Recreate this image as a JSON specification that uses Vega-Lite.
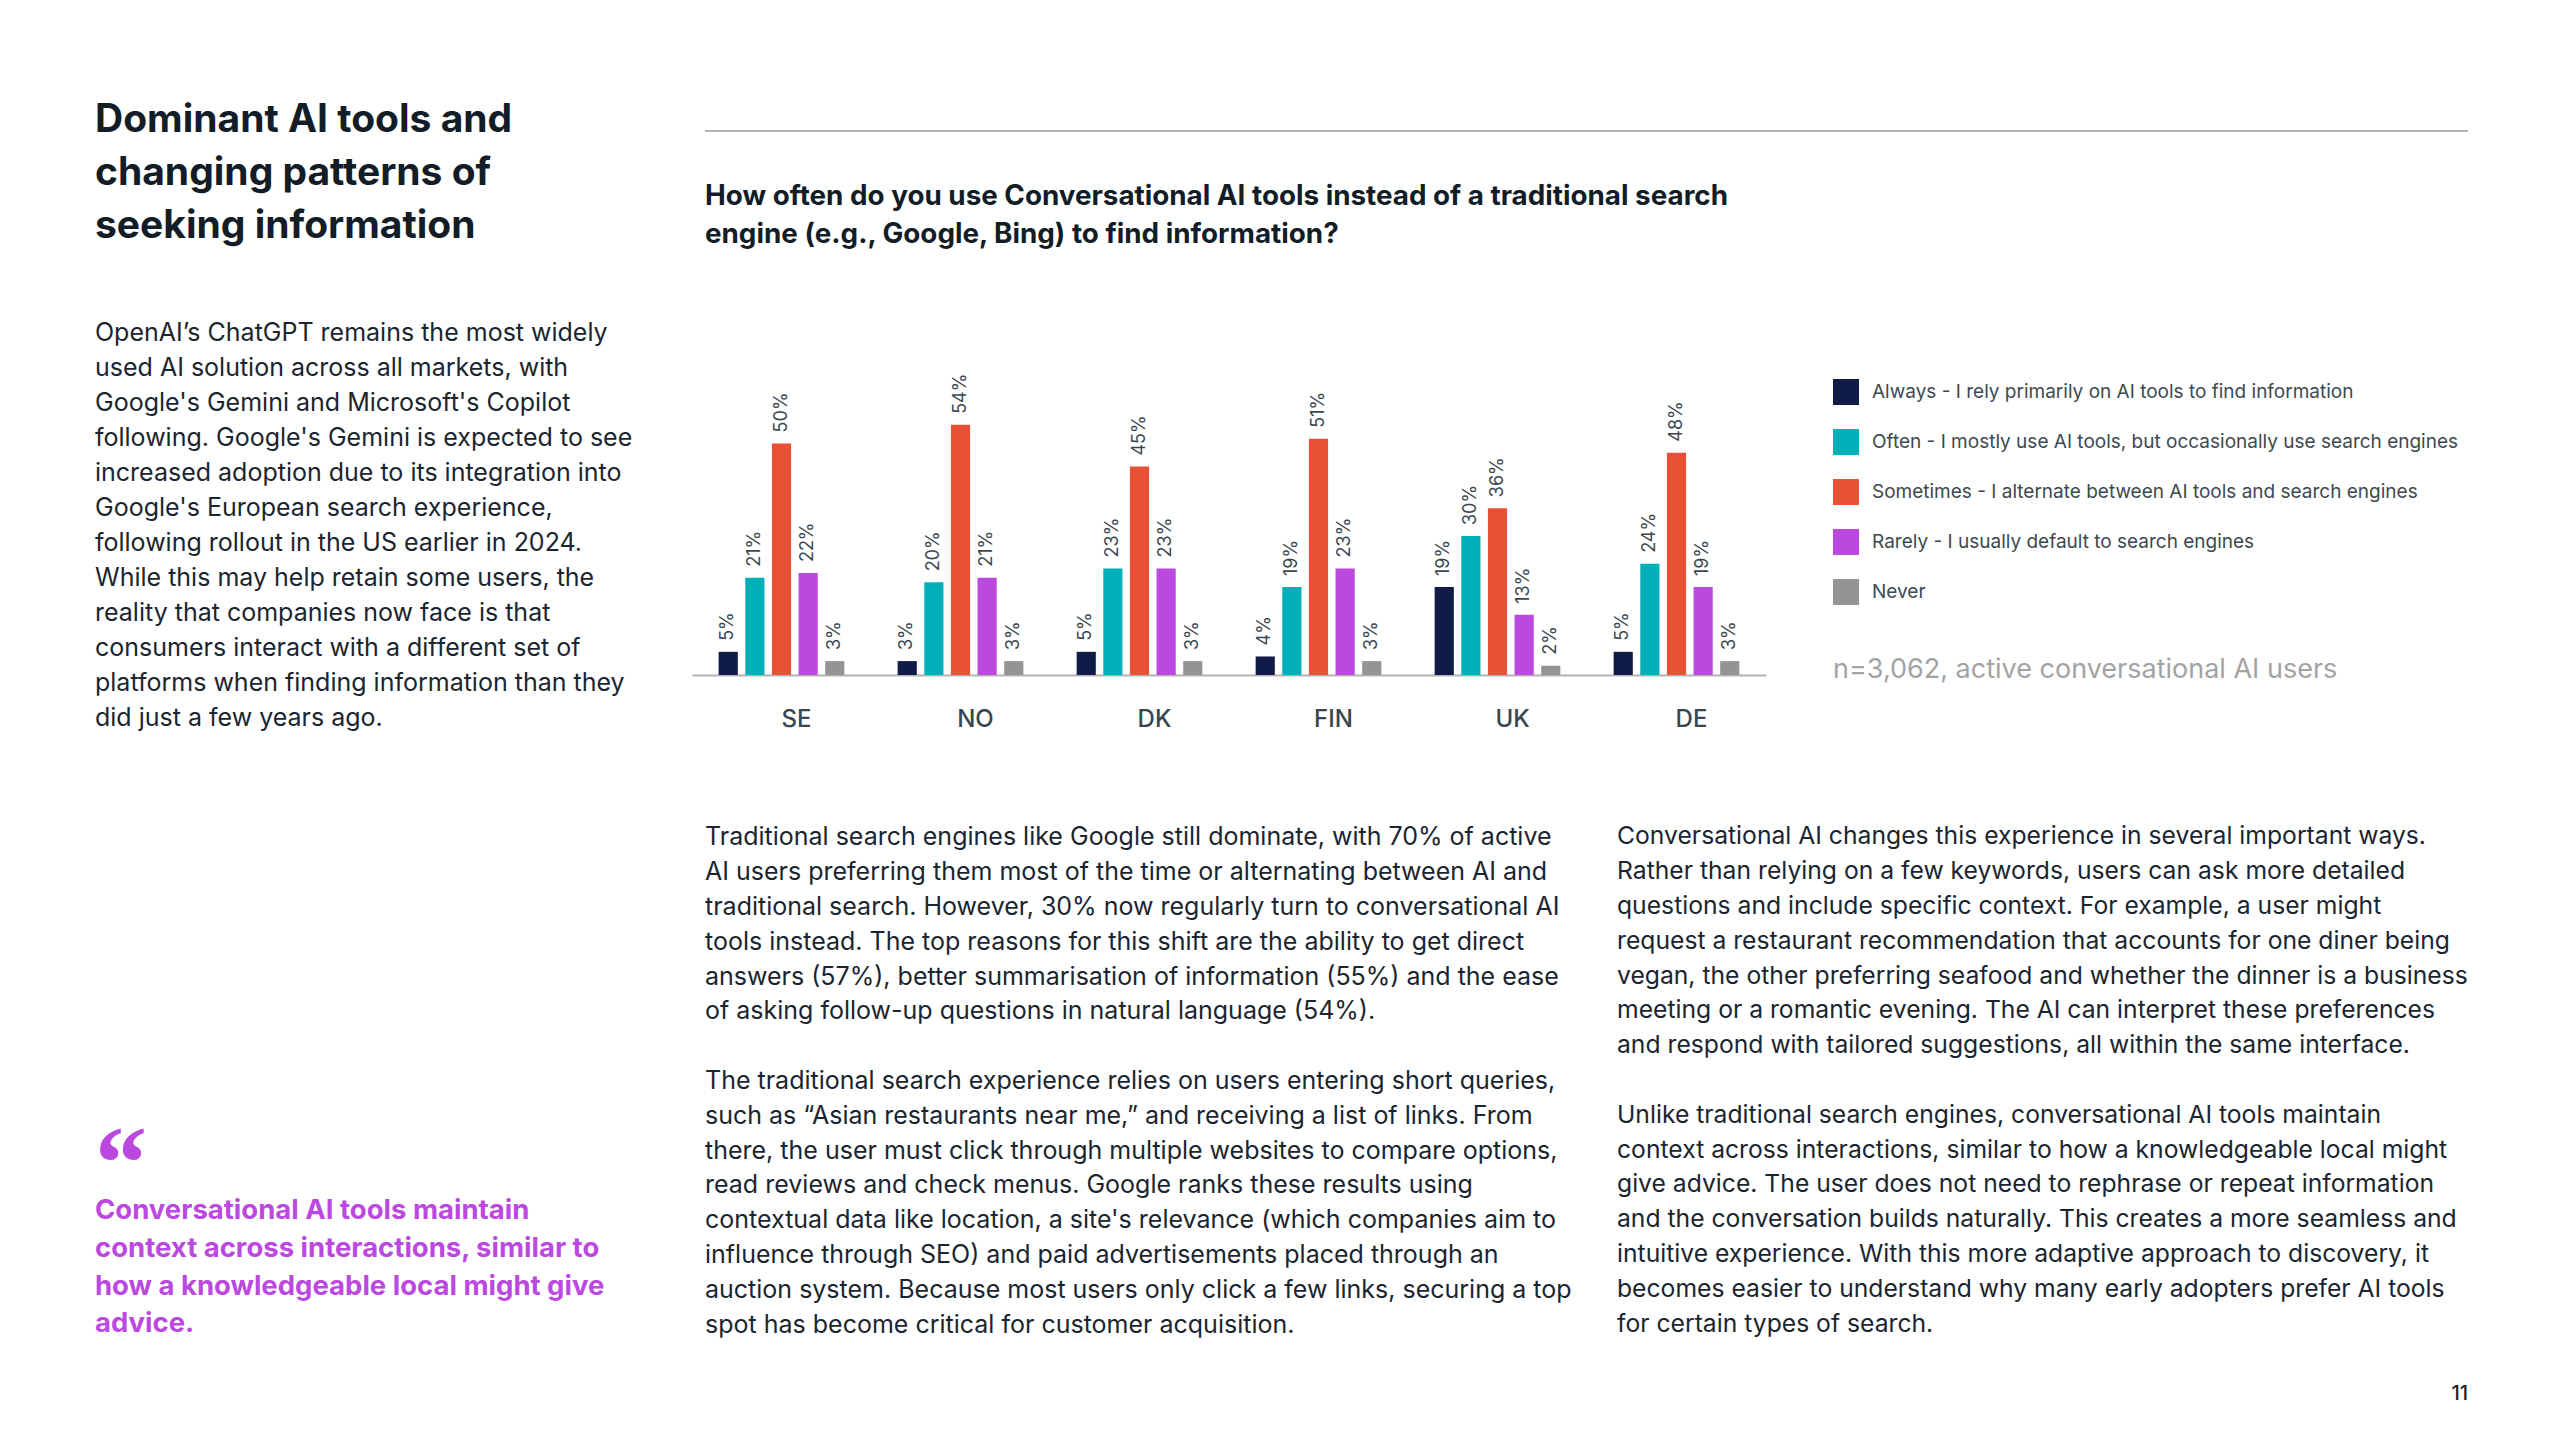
{
  "$schema": "https://vega.github.io/schema/vega-lite/v6.json",
  "background": "white",
  "padding": {"left": 95, "top": 93, "right": 0, "bottom": 0},
  "config": {"view": {"stroke": null}, "font": "Inter"},
  "spacing": 37,
  "hconcat": [
    {
      "spacing": 380,
      "vconcat": [
        {
          "spacing": 63,
          "vconcat": [
            {
              "width": 560,
              "height": 159,
              "data": {"values": [
                {"line": 0, "text": "Dominant AI tools and"},
                {"line": 1, "text": "changing patterns of"},
                {"line": 2, "text": "seeking information"}
              ]},
              "mark": {"type": "text", "align": "left", "baseline": "middle", "fontSize": 39, "fontWeight": "bold", "color": "#121d27"},
              "encoding": {
                "x": {"value": 0},
                "y": {"field": "line", "type": "quantitative", "scale": {"domain": [-0.5, 2.5], "reverse": true, "nice": false, "zero": false}, "axis": null},
                "text": {"field": "text"}
              }
            },
            {
              "width": 560,
              "height": 420,
              "data": {"values": [
                {"line": 0, "text": "OpenAI’s ChatGPT remains the most widely"},
                {"line": 1, "text": "used AI solution across all markets, with"},
                {"line": 2, "text": "Google's Gemini and Microsoft's Copilot"},
                {"line": 3, "text": "following. Google's Gemini is expected to see"},
                {"line": 4, "text": "increased adoption due to its integration into"},
                {"line": 5, "text": "Google's European search experience,"},
                {"line": 6, "text": "following rollout in the US earlier in 2024."},
                {"line": 7, "text": "While this may help retain some users, the"},
                {"line": 8, "text": "reality that companies now face is that"},
                {"line": 9, "text": "consumers interact with a different set of"},
                {"line": 10, "text": "platforms when finding information than they"},
                {"line": 11, "text": "did just a few years ago."}
              ]},
              "mark": {"type": "text", "align": "left", "baseline": "middle", "fontSize": 25, "color": "#1b2530"},
              "encoding": {
                "x": {"value": 0},
                "y": {"field": "line", "type": "quantitative", "scale": {"domain": [-0.5, 11.5], "reverse": true, "nice": false, "zero": false}, "axis": null},
                "text": {"field": "text"}
              }
            }
          ]
        },
        {
          "width": 560,
          "height": 226,
          "layer": [
            {
              "data": {"values": [{"line": -1.17, "text": "“"}]},
              "mark": {"type": "text", "align": "left", "baseline": "middle", "fontSize": 104, "fontWeight": "bold", "font": "Liberation Serif", "color": "#bb49e0"},
              "encoding": {
                "x": {"value": 0},
                "y": {"field": "line", "type": "quantitative", "scale": {"domain": [-2.5, 3.5], "reverse": true, "nice": false, "zero": false}, "axis": null},
                "text": {"field": "text"}
              }
            },
            {
              "data": {"values": [
                {"line": 0, "text": "Conversational AI tools maintain"},
                {"line": 1, "text": "context across interactions, similar to"},
                {"line": 2, "text": "how a knowledgeable local might give"},
                {"line": 3, "text": "advice."}
              ]},
              "mark": {"type": "text", "align": "left", "baseline": "middle", "fontSize": 27.5, "fontWeight": "bold", "color": "#bb49e0"},
              "encoding": {
                "x": {"value": 0},
                "y": {"field": "line", "type": "quantitative", "scale": {"domain": [-2.5, 3.5], "reverse": true, "nice": false, "zero": false}, "axis": null},
                "text": {"field": "text"}
              }
            }
          ]
        }
      ]
    },
    {
      "spacing": 89,
      "vconcat": [
        {
          "spacing": 51,
          "vconcat": [
            {
              "width": 1776,
              "height": 38,
              "data": {"values": [{}]},
              "mark": {"type": "rule", "color": "#b3b3b3", "strokeWidth": 2},
              "encoding": {"x": {"value": 13}, "x2": {"value": "width"}, "y": {"value": "height"}}
            },
            {
              "width": 1074,
              "height": 315,
              "title": {
                "text": ["How often do you use Conversational AI tools instead of a traditional search", "engine (e.g., Google, Bing) to find information?"],
                "anchor": "start", "frame": "group", "fontSize": 27.8, "fontWeight": "bold", "color": "#121d27", "lineHeight": 38, "offset": 111, "dx": 13
              },
              "data": {"values": [
                {"country": "SE", "response": "Always - I rely primarily on AI tools to find information", "value": 0.05},
                {"country": "SE", "response": "Often - I mostly use AI tools, but occasionally use search engines", "value": 0.21},
                {"country": "SE", "response": "Sometimes - I alternate between AI tools and search engines", "value": 0.50},
                {"country": "SE", "response": "Rarely - I usually default to search engines", "value": 0.22},
                {"country": "SE", "response": "Never", "value": 0.03},
                {"country": "NO", "response": "Always - I rely primarily on AI tools to find information", "value": 0.03},
                {"country": "NO", "response": "Often - I mostly use AI tools, but occasionally use search engines", "value": 0.20},
                {"country": "NO", "response": "Sometimes - I alternate between AI tools and search engines", "value": 0.54},
                {"country": "NO", "response": "Rarely - I usually default to search engines", "value": 0.21},
                {"country": "NO", "response": "Never", "value": 0.03},
                {"country": "DK", "response": "Always - I rely primarily on AI tools to find information", "value": 0.05},
                {"country": "DK", "response": "Often - I mostly use AI tools, but occasionally use search engines", "value": 0.23},
                {"country": "DK", "response": "Sometimes - I alternate between AI tools and search engines", "value": 0.45},
                {"country": "DK", "response": "Rarely - I usually default to search engines", "value": 0.23},
                {"country": "DK", "response": "Never", "value": 0.03},
                {"country": "FIN", "response": "Always - I rely primarily on AI tools to find information", "value": 0.04},
                {"country": "FIN", "response": "Often - I mostly use AI tools, but occasionally use search engines", "value": 0.19},
                {"country": "FIN", "response": "Sometimes - I alternate between AI tools and search engines", "value": 0.51},
                {"country": "FIN", "response": "Rarely - I usually default to search engines", "value": 0.23},
                {"country": "FIN", "response": "Never", "value": 0.03},
                {"country": "UK", "response": "Always - I rely primarily on AI tools to find information", "value": 0.19},
                {"country": "UK", "response": "Often - I mostly use AI tools, but occasionally use search engines", "value": 0.30},
                {"country": "UK", "response": "Sometimes - I alternate between AI tools and search engines", "value": 0.36},
                {"country": "UK", "response": "Rarely - I usually default to search engines", "value": 0.13},
                {"country": "UK", "response": "Never", "value": 0.02},
                {"country": "DE", "response": "Always - I rely primarily on AI tools to find information", "value": 0.05},
                {"country": "DE", "response": "Often - I mostly use AI tools, but occasionally use search engines", "value": 0.24},
                {"country": "DE", "response": "Sometimes - I alternate between AI tools and search engines", "value": 0.48},
                {"country": "DE", "response": "Rarely - I usually default to search engines", "value": 0.19},
                {"country": "DE", "response": "Never", "value": 0.03}
              ]},
              "encoding": {
                "x": {
                  "field": "country", "type": "nominal", "sort": ["SE", "NO", "DK", "FIN", "UK", "DE"],
                  "scale": {"paddingInner": 0, "paddingOuter": 0},
                  "axis": {"title": null, "labelAngle": 0, "labelFontSize": 24, "labelFontWeight": 500, "labelColor": "#37464f", "labelPadding": 32, "labelOffset": 15, "ticks": false, "domainColor": "#b3b3b3", "domainWidth": 2}
                },
                "xOffset": {
                  "field": "response", "type": "nominal",
                  "sort": ["Always - I rely primarily on AI tools to find information", "Often - I mostly use AI tools, but occasionally use search engines", "Sometimes - I alternate between AI tools and search engines", "Rarely - I usually default to search engines", "Never"],
                  "scale": {"paddingInner": 0.28, "paddingOuter": 1.0}
                },
                "y": {"field": "value", "type": "quantitative", "scale": {"domain": [0, 0.68], "nice": false}, "axis": null}
              },
              "layer": [
                {
                  "mark": {"type": "bar"},
                  "encoding": {
                    "color": {
                      "field": "response", "type": "nominal",
                      "scale": {
                        "domain": ["Always - I rely primarily on AI tools to find information", "Often - I mostly use AI tools, but occasionally use search engines", "Sometimes - I alternate between AI tools and search engines", "Rarely - I usually default to search engines", "Never"],
                        "range": ["#101c47", "#00b0b8", "#e85135", "#bb49e0", "#949494"]
                      },
                      "legend": {
                        "title": "n=3,062, active conversational AI users",
                        "orient": "none", "legendX": 1738, "legendY": 286,
                        "titleOrient": "bottom", "titleAnchor": "start", "titleFontSize": 27, "titleFontWeight": "normal", "titleColor": "#a3a3a3", "titlePadding": 52, "titleLimit": 900,
                        "labelFontSize": 19, "labelColor": "#3d4950", "labelLimit": 900, "labelOffset": 13,
                        "symbolType": "square", "symbolSize": 676, "symbolStrokeWidth": 0, "symbolOpacity": 1,
                        "rowPadding": 24, "padding": 0
                      }
                    }
                  }
                },
                {
                  "mark": {"type": "text", "angle": 270, "align": "left", "baseline": "middle", "fontSize": 18, "color": "#3a4750", "yOffset": -11},
                  "encoding": {"text": {"field": "value", "format": ".0%"}}
                }
              ]
            }
          ]
        },
        {
          "spacing": 37,
          "vconcat": [
            {
              "spacing": 32,
              "hconcat": [
                {
                  "width": 880,
                  "height": 522,
                  "data": {"values": [
                    {"line": 0, "text": "Traditional search engines like Google still dominate, with 70% of active"},
                    {"line": 1, "text": "AI users preferring them most of the time or alternating between AI and"},
                    {"line": 2, "text": "traditional search. However, 30% now regularly turn to conversational AI"},
                    {"line": 3, "text": "tools instead. The top reasons for this shift are the ability to get direct"},
                    {"line": 4, "text": "answers (57%), better summarisation of information (55%) and the ease"},
                    {"line": 5, "text": "of asking follow-up questions in natural language (54%)."},
                    {"line": 7, "text": "The traditional search experience relies on users entering short queries,"},
                    {"line": 8, "text": "such as “Asian restaurants near me,” and receiving a list of links. From"},
                    {"line": 9, "text": "there, the user must click through multiple websites to compare options,"},
                    {"line": 10, "text": "read reviews and check menus. Google ranks these results using"},
                    {"line": 11, "text": "contextual data like location, a site's relevance (which companies aim to"},
                    {"line": 12, "text": "influence through SEO) and paid advertisements placed through an"},
                    {"line": 13, "text": "auction system. Because most users only click a few links, securing a top"},
                    {"line": 14, "text": "spot has become critical for customer acquisition."}
                  ]},
                  "mark": {"type": "text", "align": "left", "baseline": "middle", "fontSize": 25, "color": "#1b2530", "dx": 13},
                  "encoding": {
                    "x": {"value": 0},
                    "y": {"field": "line", "type": "quantitative", "scale": {"domain": [-0.5, 14.5], "reverse": true, "nice": false, "zero": false}, "axis": null},
                    "text": {"field": "text"}
                  }
                },
                {
                  "width": 870,
                  "height": 522,
                  "data": {"values": [
                    {"line": 0, "text": "Conversational AI changes this experience in several important ways."},
                    {"line": 1, "text": "Rather than relying on a few keywords, users can ask more detailed"},
                    {"line": 2, "text": "questions and include specific context. For example, a user might"},
                    {"line": 3, "text": "request a restaurant recommendation that accounts for one diner being"},
                    {"line": 4, "text": "vegan, the other preferring seafood and whether the dinner is a business"},
                    {"line": 5, "text": "meeting or a romantic evening. The AI can interpret these preferences"},
                    {"line": 6, "text": "and respond with tailored suggestions, all within the same interface."},
                    {"line": 8, "text": "Unlike traditional search engines, conversational AI tools maintain"},
                    {"line": 9, "text": "context across interactions, similar to how a knowledgeable local might"},
                    {"line": 10, "text": "give advice. The user does not need to rephrase or repeat information"},
                    {"line": 11, "text": "and the conversation builds naturally. This creates a more seamless and"},
                    {"line": 12, "text": "intuitive experience. With this more adaptive approach to discovery, it"},
                    {"line": 13, "text": "becomes easier to understand why many early adopters prefer AI tools"},
                    {"line": 14, "text": "for certain types of search."}
                  ]},
                  "mark": {"type": "text", "align": "left", "baseline": "middle", "fontSize": 24.7, "color": "#1b2530", "dx": 13},
                  "encoding": {
                    "x": {"value": 0},
                    "y": {"field": "line", "type": "quantitative", "scale": {"domain": [-0.5, 14.5], "reverse": true, "nice": false, "zero": false}, "axis": null},
                    "text": {"field": "text"}
                  }
                }
              ]
            },
            {
              "width": 1776,
              "height": 30,
              "data": {"values": [{"page": "11"}]},
              "mark": {"type": "text", "align": "right", "baseline": "middle", "fontSize": 20, "fontWeight": 500, "color": "#1b2530"},
              "encoding": {"x": {"value": "width"}, "text": {"field": "page"}}
            }
          ]
        }
      ]
    }
  ]
}
